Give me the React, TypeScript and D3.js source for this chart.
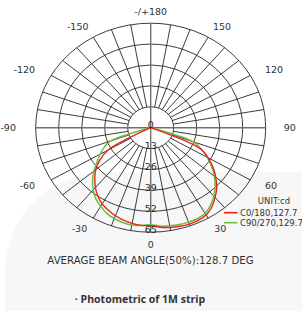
import React from 'react';
import * as d3 from 'd3';

// angle measured from the bottom (0) toward the right (+)
const angles = [
  -90, -85, -80, -75, -70, -65, -60, -55, -50, -45, -40, -35, -30, -25, -20, -15, -10, -5,
  0, 5, 10, 15, 20, 25, 30, 35, 40, 45, 50, 55, 60, 65, 70, 75, 80, 85, 90,
];

const c0Values = [
  0, 0, 0, 0, 0, 0, 28, 35, 40.5, 44.7, 48.6, 52, 54.8, 56.7, 58.3, 59.5, 60.4, 61,
  61, 62.2, 63, 63.5, 63.8, 63.6, 62.7, 60.2, 56.6, 52.8, 48, 43, 37.5, 31, 0, 0, 0, 0, 0,
];

const c90Values = [
  0, 0, 0, 0, 24, 29, 33, 37, 42, 46.5, 50.5, 54, 56.5, 58.8, 60.2, 61, 61.5, 61,
  60.3, 61.4, 62, 62.4, 62.5, 62.5, 61.5, 59, 55.5, 51.5, 47, 42, 37, 31.5, 25.6, 0, 0, 0, 0,
];

const ringValues = [13, 26, 39, 52, 65];
const ringLabels = ['0', '13', '26', '39', '52', '65'];

const angleTicks = [0, 30, 60, 90, 120, 150, 180, -150, -120, -90, -60, -30];
const angleTickLabels = ['0', '30', '60', '90', '120', '150', '-/+180', '-150', '-120', '-90', '-60', '-30'];

const legendNames = ['C0/180,127.7', 'C90/270,129.7'];

const W = 302;
const H = 311;
const cx = 150.7;
const cy = 127.7;
const font = "'DejaVu Sans', sans-serif";

export default function App() {
  const rX = d3.scaleLinear().domain([0, 65]).range([0, 115]);
  const rY = d3.scaleLinear().domain([0, 65]).range([0, 104.5]);
  const rad = (a: number) => (a * Math.PI) / 180;

  const px = (a: number, v: number) => cx + rX(v) * Math.sin(rad(a));
  const py = (a: number, v: number) => cy + rY(v) * Math.cos(rad(a));

  const line = d3
    .line<[number, number]>()
    .x((d) => px(d[0], d[1]))
    .y((d) => py(d[0], d[1]))
    .curve(d3.curveCatmullRom.alpha(0.5));

  const c0 = angles.map((a, i) => [a, c0Values[i]] as [number, number]);
  const c90 = angles.map((a, i) => [a, c90Values[i]] as [number, number]);

  const spokes = d3.range(0, 360, 10).filter((a) => a % 90 !== 0);
  const inner = ringValues[0];
  const outer = ringValues[ringValues.length - 1];

  return (
    <svg
      width={W}
      height={H}
      style={{ position: 'absolute', left: 0, top: 0, background: '#fff' }}
      fontFamily={font}
    >
      <rect x={5} y={172} width={400} height={300} rx={100} fill="#f7f7f7" />

      {ringValues.map((v) => (
        <ellipse key={v} cx={cx} cy={cy} rx={rX(v)} ry={rY(v)} fill="none" stroke="#262626" strokeWidth={0.9} />
      ))}
      {spokes.map((a) => (
        <line
          key={a}
          x1={px(a, inner)}
          y1={py(a, inner)}
          x2={px(a, outer)}
          y2={py(a, outer)}
          stroke="#262626"
          strokeWidth={0.9}
        />
      ))}
      {[0, 90].map((a) => (
        <line
          key={'ax' + a}
          x1={px(a, outer)}
          y1={py(a, outer)}
          x2={px(a + 180, outer)}
          y2={py(a + 180, outer)}
          stroke="#707070"
          strokeWidth={1.4}
        />
      ))}

      <path d={line(c90) || ''} fill="none" stroke="#6cbd3c" strokeWidth={1.5} />
      <path d={line(c0) || ''} fill="none" stroke="#e8231f" strokeWidth={1.4} />

      {ringLabels.map((t, i) => (
        <text key={t} x={cx} y={py(0, i * 13) + 0.5} textAnchor="middle" fontSize={9.5} fill="#262626">
          {t}
        </text>
      ))}

      {angleTicks.map((a, i) => {
        const s = Math.sin(rad(a));
        const label = angleTickLabels[i];
        const hw = label.length * 3.5;
        const x = cx + (rX(outer) + 17) * s + hw * s;
        const y = cy + (rY(outer) + 12) * Math.cos(rad(a)) + 3.5;
        return (
          <text key={a} x={x} y={y} textAnchor="middle" fontSize={9.5} fill="#333">
            {label}
          </text>
        );
      })}

      <text x={274} y={204} textAnchor="middle" fontSize={8.5} fill="#333">
        UNIT:cd
      </text>
      {legendNames.map((n, i) => (
        <g key={n}>
          <line
            x1={224}
            x2={237.5}
            y1={212.7 + i * 10}
            y2={212.7 + i * 10}
            stroke={i === 0 ? '#e8231f' : '#6cbd3c'}
            strokeWidth={1.6}
          />
          <text x={240} y={215.8 + i * 10} fontSize={8.5} fill="#333">
            {n}
          </text>
        </g>
      ))}

      <text x={150.5} y={264} textAnchor="middle" fontSize={10.2} fill="#333">
        AVERAGE BEAM ANGLE(50%):128.7 DEG
      </text>
      <text
        x={140}
        y={303}
        textAnchor="middle"
        fontSize={10.5}
        fontWeight="bold"
        fill="#333"
        fontFamily="'Open Sans', sans-serif"
      >
        · Photometric of 1M strip
      </text>
    </svg>
  );
}
